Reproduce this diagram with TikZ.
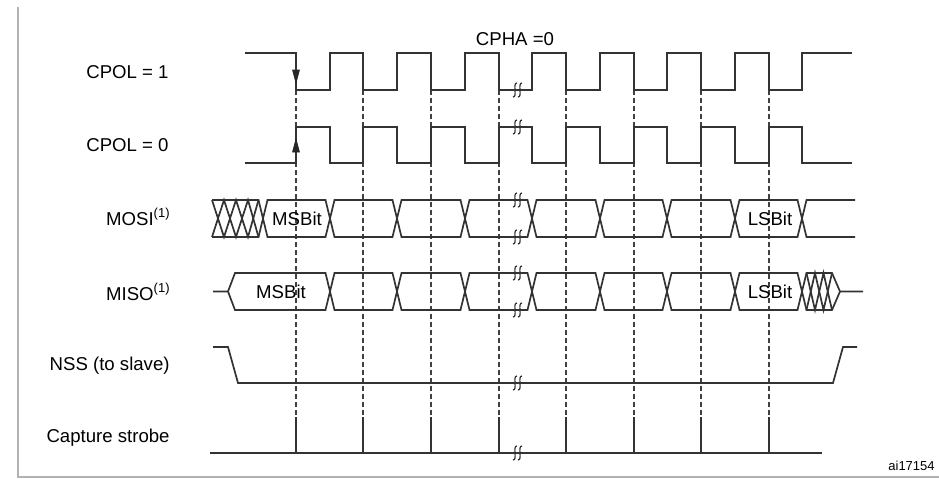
\documentclass[tikz,border=0pt]{standalone}
\usepackage{fontspec}
\setmainfont{Liberation Sans}

\tikzset{
  sigline/.style={draw=black!80, line width=0.85pt},
  sampline/.style={draw=black!75, line width=0.65pt, dash pattern=on 2.5pt off 1.5pt},
  lbl/.style={anchor=east, inner sep=0pt},
  framebar/.style={draw=black!30, line width=1pt},
  brk/.style={draw=black!80, line width=0.6pt},
  arrhead/.style={fill=black!85, draw=black!85, line width=0.3pt}
}
\newcommand{\brkmark}[2]{%
  \draw[brk] (#1-4,#2+7) .. controls (#1+1,#2+7) and (#1-5,#2-7) .. (#1,#2-7);
  \draw[brk] (#1+1,#2+7) .. controls (#1+6,#2+7) and (#1,#2-7) .. (#1+5,#2-7);
}

\begin{document}
\begin{tikzpicture}[x=0.5pt,y=-0.5pt,font=\fontsize{9.3}{11}\selectfont]
\useasboundingbox (0,0) rectangle (939,478);
% frame
\draw[framebar] (18,7) -- (18,478);
\draw[framebar] (18,477) -- (939,477);
% labels
\node[lbl] (cpolone) at (169,72) {CPOL = 1};
\node[lbl] (cpolzero) at (169,145) {CPOL = 0};
\node[lbl] (mosi) at (171,217) {MOSI\textsuperscript{(1)}};
\node[lbl] (miso) at (171,292) {MISO\textsuperscript{(1)}};
\node[lbl] (nss) at (170,366) {NSS (to slave)};
\node[lbl] (strobe) at (170,438) {Capture strobe};
\node[inner sep=0pt] (cpha) at (515,39) {CPHA =0};
\node[anchor=west,inner sep=0pt,font=\fontsize{6.5}{7}\selectfont] (figid) at (888,466) {ai17154};
% sampling edges
\draw[sampline] (296,90) -- (296,417);
\draw[sampline] (363,90) -- (363,417);
\draw[sampline] (431,90) -- (431,417);
\draw[sampline] (499,90) -- (499,417);
\draw[sampline] (566,90) -- (566,417);
\draw[sampline] (634,90) -- (634,417);
\draw[sampline] (701,90) -- (701,417);
\draw[sampline] (769,90) -- (769,417);
% CPOL = 1
\draw[sigline] (245,53) -- (296,53) -- (296,90) -- (330,90) -- (330,53) -- (363,53) -- (363,90) -- (397,90) -- (397,53) -- (431,53) -- (431,90) -- (465,90) -- (465,53) -- (499,53) -- (499,90) -- (532,90) -- (532,53) -- (566,53) -- (566,90) -- (600,90) -- (600,53) -- (634,53) -- (634,90) -- (667,90) -- (667,53) -- (701,53) -- (701,90) -- (735,90) -- (735,53) -- (769,53) -- (769,90) -- (802,90) -- (802,53) -- (852,53);
\filldraw[arrhead] (296,83) -- (292.5,70) -- (299.5,70) -- cycle;
% CPOL = 0
\draw[sigline] (245,163) -- (296,163) -- (296,127) -- (330,127) -- (330,163) -- (363,163) -- (363,127) -- (397,127) -- (397,163) -- (431,163) -- (431,127) -- (465,127) -- (465,163) -- (499,163) -- (499,127) -- (532,127) -- (532,163) -- (566,163) -- (566,127) -- (600,127) -- (600,163) -- (634,163) -- (634,127) -- (667,127) -- (667,163) -- (701,163) -- (701,127) -- (735,127) -- (735,163) -- (769,163) -- (769,127) -- (802,127) -- (802,163) -- (852,163);
\filldraw[arrhead] (296,139) -- (292.5,152) -- (299.5,152) -- cycle;
% MOSI
\draw[sigline] (212,200) -- (224,237) -- (236,200) -- (248,237) -- (258.5,200);
\draw[sigline] (212,237) -- (224,200) -- (236,237) -- (248,200) -- (258.5,237);
\draw[sigline] (212,200) -- (258.5,200) -- (267.5,237) -- (325.5,237) -- (334.5,200) -- (392.5,200) -- (401.5,237) -- (460.5,237) -- (469.5,200) -- (527.5,200) -- (536.5,237) -- (595.5,237) -- (604.5,200) -- (662.5,200) -- (671.5,237) -- (730.5,237) -- (739.5,200) -- (797.5,200) -- (806.5,237) -- (855,237);
\draw[sigline] (212,237) -- (258.5,237) -- (267.5,200) -- (325.5,200) -- (334.5,237) -- (392.5,237) -- (401.5,200) -- (460.5,200) -- (469.5,237) -- (527.5,237) -- (536.5,200) -- (595.5,200) -- (604.5,237) -- (662.5,237) -- (671.5,200) -- (730.5,200) -- (739.5,237) -- (797.5,237) -- (806.5,200) -- (855,200);
\node[inner sep=0pt] (mosimsb) at (297,218.5) {MSBit};
\node[inner sep=0pt] (mosilsb) at (770,218.5) {LSBit};
% MISO
\draw[sigline] (213,291.5) -- (228,291.5) -- (235,273) -- (325.5,273) -- (334.5,310) -- (392.5,310) -- (401.5,273) -- (460.5,273) -- (469.5,310) -- (527.5,310) -- (536.5,273) -- (595.5,273) -- (604.5,310) -- (662.5,310) -- (671.5,273) -- (730.5,273) -- (739.5,310) -- (797.5,310) -- (806.5,273) -- (832,273) -- (840,291.5) -- (863,291.5);
\draw[sigline] (228,291.5) -- (235,310) -- (325.5,310) -- (334.5,273) -- (392.5,273) -- (401.5,310) -- (460.5,310) -- (469.5,273) -- (527.5,273) -- (536.5,310) -- (595.5,310) -- (604.5,273) -- (662.5,273) -- (671.5,310) -- (730.5,310) -- (739.5,273) -- (797.5,273) -- (806.5,310) -- (832,310) -- (840,291.5);
\draw[sigline] (806.5,273) -- (815,310) -- (823.5,273) -- (832,310);
\draw[sigline] (806.5,310) -- (815,273) -- (823.5,310) -- (832,273);
\node[inner sep=0pt] (misomsb) at (281,292) {MSBit};
\node[inner sep=0pt] (misolsb) at (770,292) {LSBit};
% NSS
\draw[sigline] (213,347) -- (228,347) -- (238,383) -- (833,383) -- (843,347) -- (857,347);
% capture strobe
\draw[sigline] (210,453) -- (822,453);
\draw[sigline] (296,453) -- (296,417);
\draw[sigline] (363,453) -- (363,417);
\draw[sigline] (431,453) -- (431,417);
\draw[sigline] (499,453) -- (499,417);
\draw[sigline] (566,453) -- (566,417);
\draw[sigline] (634,453) -- (634,417);
\draw[sigline] (701,453) -- (701,417);
\draw[sigline] (769,453) -- (769,417);
% breaks
\brkmark{517}{90}
\brkmark{517}{127}
\brkmark{517}{200}
\brkmark{517}{237}
\brkmark{517}{273}
\brkmark{517}{310}
\brkmark{517}{383}
\brkmark{517}{453}
\end{tikzpicture}
\end{document}
